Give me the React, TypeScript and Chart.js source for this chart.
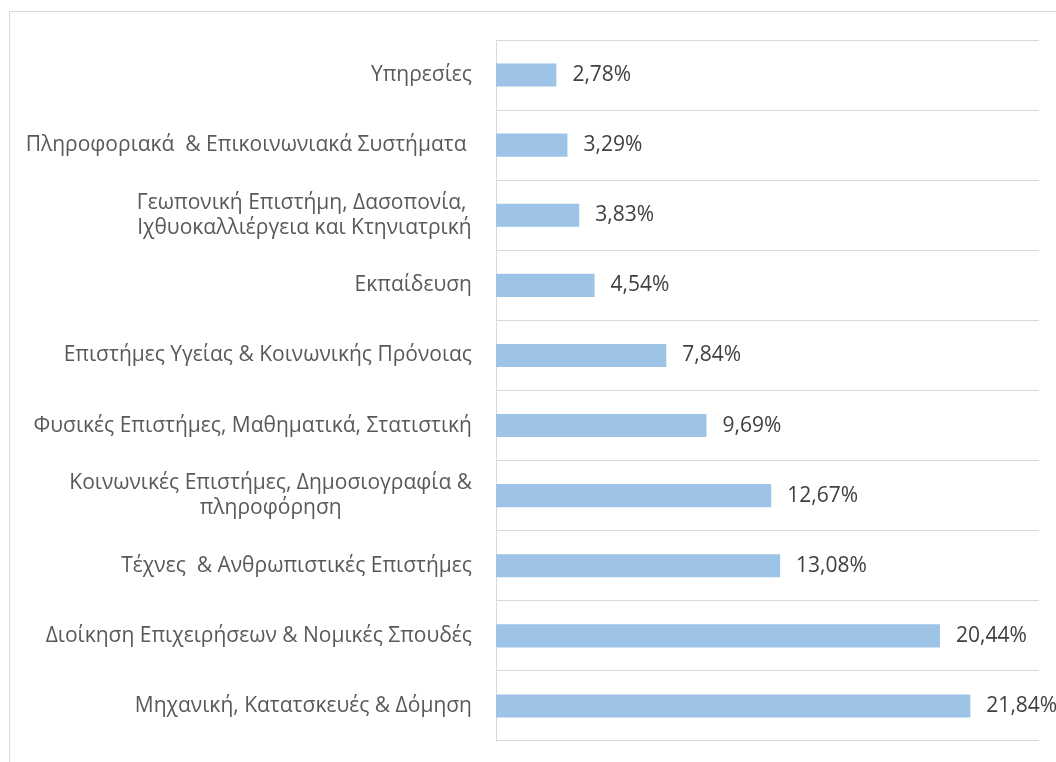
import React, { useEffect, useRef } from "react";
import { Chart, registerables } from "chart.js";

Chart.register(...registerables);

const categories: string[][] = [
  ["Υπηρεσίες"],
  ["Πληροφοριακά  & Επικοινωνιακά Συστήματα "],
  ["Γεωπονική Επιστήμη, Δασοπονία, ", "Ιχθυοκαλλιέργεια και Κτηνιατρική"],
  ["Εκπαίδευση"],
  ["Επιστήμες Υγείας & Κοινωνικής Πρόνοιας"],
  ["Φυσικές Επιστήμες, Μαθηματικά, Στατιστική"],
  ["Κοινωνικές Επιστήμες, Δημοσιογραφία &", "πληροφόρηση"],
  ["Τέχνες  & Ανθρωπιστικές Επιστήμες"],
  ["Διοίκηση Επιχειρήσεων & Νομικές Σπουδές"],
  ["Μηχανική, Κατατσκευές & Δόμηση"],
];

const shares: number[] = [2.78, 3.29, 3.83, 4.54, 7.84, 9.69, 12.67, 13.08, 20.44, 21.84];

const FONT = '"Open Sans", "Noto Sans", sans-serif';
const FONT_SIZE = 21;

const labelPlugin = {
  id: "customLabels",
  afterDraw(chart: any) {
    const ctx = chart.ctx;
    const y = chart.scales.y;
    ctx.save();
    ctx.font = `${FONT_SIZE}px ${FONT}`;
    ctx.textBaseline = "middle";
    const rightEdge = chart.chartArea.left - 24;
    const lineH = 25;
    categories.forEach((lines, i) => {
      const cy = y.getPixelForValue(i);
      const widths = lines.map((l) => ctx.measureText(l).width);
      const W = Math.max(...widths);
      const cx = rightEdge - W / 2;
      ctx.fillStyle = "#595959";
      ctx.textAlign = "center";
      const startY = cy - ((lines.length - 1) * lineH) / 2;
      lines.forEach((l, j) => {
        ctx.fillText(l, cx, startY + j * lineH);
      });
    });
    const meta = chart.getDatasetMeta(0);
    ctx.textAlign = "left";
    ctx.fillStyle = "#404040";
    meta.data.forEach((bar: any, i: number) => {
      const txt = shares[i].toFixed(2).replace(".", ",") + "%";
      ctx.fillText(txt, bar.x + 16, bar.y);
    });
    ctx.restore();
    ctx.save();
    ctx.strokeStyle = "#d9d9d9";
    ctx.lineWidth = 1;
    ctx.strokeRect(9.5, 11.5, 1100, 800);
    ctx.restore();
  },
};

export default function App() {
  const ref = useRef<HTMLCanvasElement | null>(null);
  useEffect(() => {
    if (!ref.current) return;
    const chart = new Chart(ref.current, {
      type: "bar",
      data: {
        labels: categories.map((c) => c.join(" ")),
        datasets: [
          {
            data: shares,
            backgroundColor: "#9DC3E6",
            barPercentage: 0.33,
            categoryPercentage: 1,
          },
        ],
      },
      options: {
        indexAxis: "y",
        animation: false,
        responsive: false,
        maintainAspectRatio: false,
        layout: { padding: { top: 40, right: 17, bottom: 21, left: 0 } },
        plugins: { legend: { display: false }, tooltip: { enabled: false } },
        scales: {
          x: { display: false, min: 0, max: 25 },
          y: {
            afterFit: (scale: any) => {
              scale.width = 496;
            },
            ticks: { display: false },
            grid: { color: "#d9d9d9", offset: true, drawTicks: false },
            border: { color: "#d9d9d9" },
          },
        },
      },
      plugins: [labelPlugin],
    });
    return () => chart.destroy();
  }, []);
  return (
    <div style={{ position: "fixed", left: 0, top: 0, width: 1056, height: 762, background: "#fff" }}>
      <canvas ref={ref} width={1056} height={762} style={{ width: 1056, height: 762, display: "block" }} />
    </div>
  );
}
